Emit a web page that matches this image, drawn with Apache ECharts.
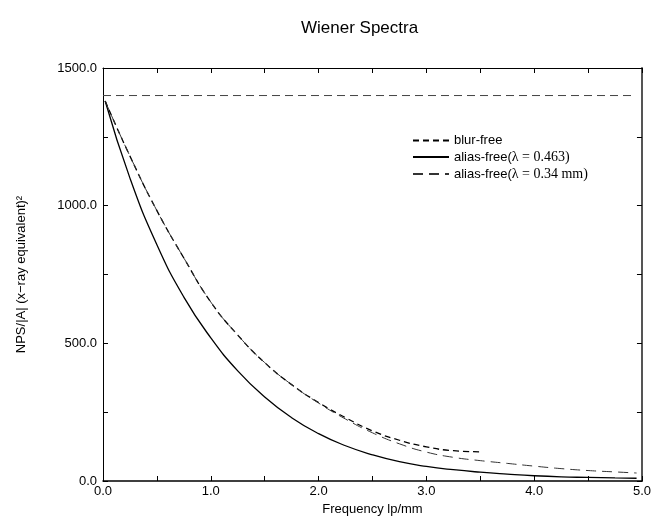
<!DOCTYPE html>
<html>
<head>
<meta charset="utf-8">
<script src="https://cdn.jsdelivr.net/npm/echarts@6/dist/echarts.min.js"></script>
<style>
  html, body { margin: 0; padding: 0; background: #fff; }
  #main { width: 654px; height: 521px; }
</style>
</head>
<body>
<div id="main"></div>
<script>
const freqBlur = [0.02, 0.25, 0.5, 0.75, 1.0, 1.25, 1.5, 1.75, 2.0, 2.25, 2.5, 2.75, 3.0, 3.25, 3.5];
const blurFree = [1380, 1180, 982, 810, 650, 530, 430, 350, 285, 230, 182, 148, 124, 110, 106];

const freqFull = [0.02, 0.25, 0.5, 0.75, 1.0, 1.25, 1.5, 1.75, 2.0, 2.25, 2.5, 2.75, 3.0, 3.25, 3.5, 3.75, 4.0, 4.25, 4.5, 4.75, 4.95];
const aliasFree463 = [1380, 1100, 858, 668, 520, 400, 305, 230, 172, 128, 95, 70, 53, 41, 32, 25, 19, 15, 13, 11, 10];
const aliasFree034 = [1380, 1180, 982, 810, 650, 530, 430, 350, 283, 225, 175, 135, 105, 86, 74, 64, 54, 45, 38, 33, 29];

const refFreq = [0.0, 4.92];
const refLevel = [1400, 1400];

const names = ['blur-free', 'alias-free(λ = 0.463)', 'alias-free(λ = 0.34 mm)'];

const zip = (xs, ys) => xs.map((x, i) => [x, ys[i]]);

const chart = echarts.init(document.getElementById('main'));
const font = 'Liberation Sans, Arial, Helvetica, sans-serif';

// ticks every half step, labels only on the whole ones
const xLabel = v => (Math.abs(v - Math.round(v)) < 1e-6 ? v.toFixed(1) : '');
const yLabel = v => (v % 500 === 0 ? v.toFixed(1) : '');

const tick = () => ({ show: true, inside: true, length: 5, lineStyle: { color: '#000' } });

const option = {
  animation: false,
  title: {
    text: 'Wiener Spectra',
    left: 296,
    top: 15,
    textStyle: { fontFamily: font, fontSize: 17, fontWeight: 'normal', color: '#000' }
  },
  grid: { left: 103, right: 8, top: 68, bottom: 40 },
  legend: {
    data: names,
    orient: 'vertical',
    left: 407,
    top: 129,
    itemWidth: 36,
    itemHeight: 10,
    itemGap: 3,
    itemStyle: { color: 'transparent', borderWidth: 0, opacity: 0 },
    textStyle: {
      fontFamily: font,
      fontSize: 13,
      color: '#000',
      rich: {
        s: { fontFamily: 'Liberation Serif, Times New Roman, serif', fontSize: 14, color: '#000' },
        n: { fontFamily: font, fontSize: 13, color: '#000' }
      }
    },
    formatter: function (name) {
      const m = name.match(/^(.*\()(.*)(\))$/);
      if (!m) return '{n|' + name + '}';
      return '{n|' + m[1] + '}{s|' + m[2] + m[3] + '}';
    }
  },
  xAxis: [{
    type: 'value',
    min: 0,
    max: 5,
    interval: 0.5,
    name: 'Frequency lp/mm',
    nameLocation: 'middle',
    nameGap: 20,
    nameTextStyle: { fontFamily: font, fontSize: 13, color: '#000' },
    axisLine: { onZero: false, lineStyle: { color: '#000', width: 1.5 } },
    axisTick: tick(),
    axisLabel: { fontFamily: font, fontSize: 13, color: '#000', margin: 4, formatter: xLabel },
    splitLine: { show: false }
  }, {
    type: 'value',
    position: 'top',
    min: 0,
    max: 5,
    interval: 0.5,
    axisLine: { show: true, onZero: false, lineStyle: { color: '#000', width: 1.2 } },
    axisTick: tick(),
    axisLabel: { show: false },
    splitLine: { show: false }
  }],
  yAxis: [{
    type: 'value',
    min: 0,
    max: 1500,
    interval: 250,
    name: 'NPS/|A| (x\u2212ray equivalent)\u00b2',
    nameLocation: 'middle',
    nameGap: 75,
    nameTextStyle: { fontFamily: font, fontSize: 13, color: '#000' },
    axisLine: { show: true, onZero: false, lineStyle: { color: '#000', width: 1 } },
    axisTick: tick(),
    axisLabel: { fontFamily: font, fontSize: 13, color: '#000', margin: 6, formatter: yLabel },
    splitLine: { show: false }
  }, {
    type: 'value',
    position: 'right',
    min: 0,
    max: 1500,
    interval: 250,
    axisLine: { show: true, onZero: false, lineStyle: { color: '#555', width: 2 } },
    axisTick: tick(),
    axisLabel: { show: false },
    splitLine: { show: false }
  }],
  series: [
    {
      name: names[0],
      type: 'line',
      smooth: true,
      symbol: 'none',
      data: zip(freqBlur, blurFree),
      lineStyle: { color: '#000', width: 1.3, type: [6, 4] },
      itemStyle: { color: '#000' }
    },
    {
      name: names[1],
      type: 'line',
      smooth: true,
      symbol: 'none',
      data: zip(freqFull, aliasFree463),
      lineStyle: { color: '#000', width: 1.3, type: 'solid' },
      itemStyle: { color: '#000' }
    },
    {
      name: names[2],
      type: 'line',
      smooth: true,
      symbol: 'none',
      data: zip(freqFull, aliasFree034),
      lineStyle: { color: '#333', width: 1, type: [10, 6] },
      itemStyle: { color: '#333' }
    },
    {
      name: 'reference',
      type: 'line',
      symbol: 'none',
      silent: true,
      data: zip(refFreq, refLevel),
      lineStyle: { color: '#444', width: 1, type: [8, 5] }
    }
  ]
};

chart.setOption(option);
window.addEventListener('resize', () => chart.resize());
</script>
</body>
</html>
